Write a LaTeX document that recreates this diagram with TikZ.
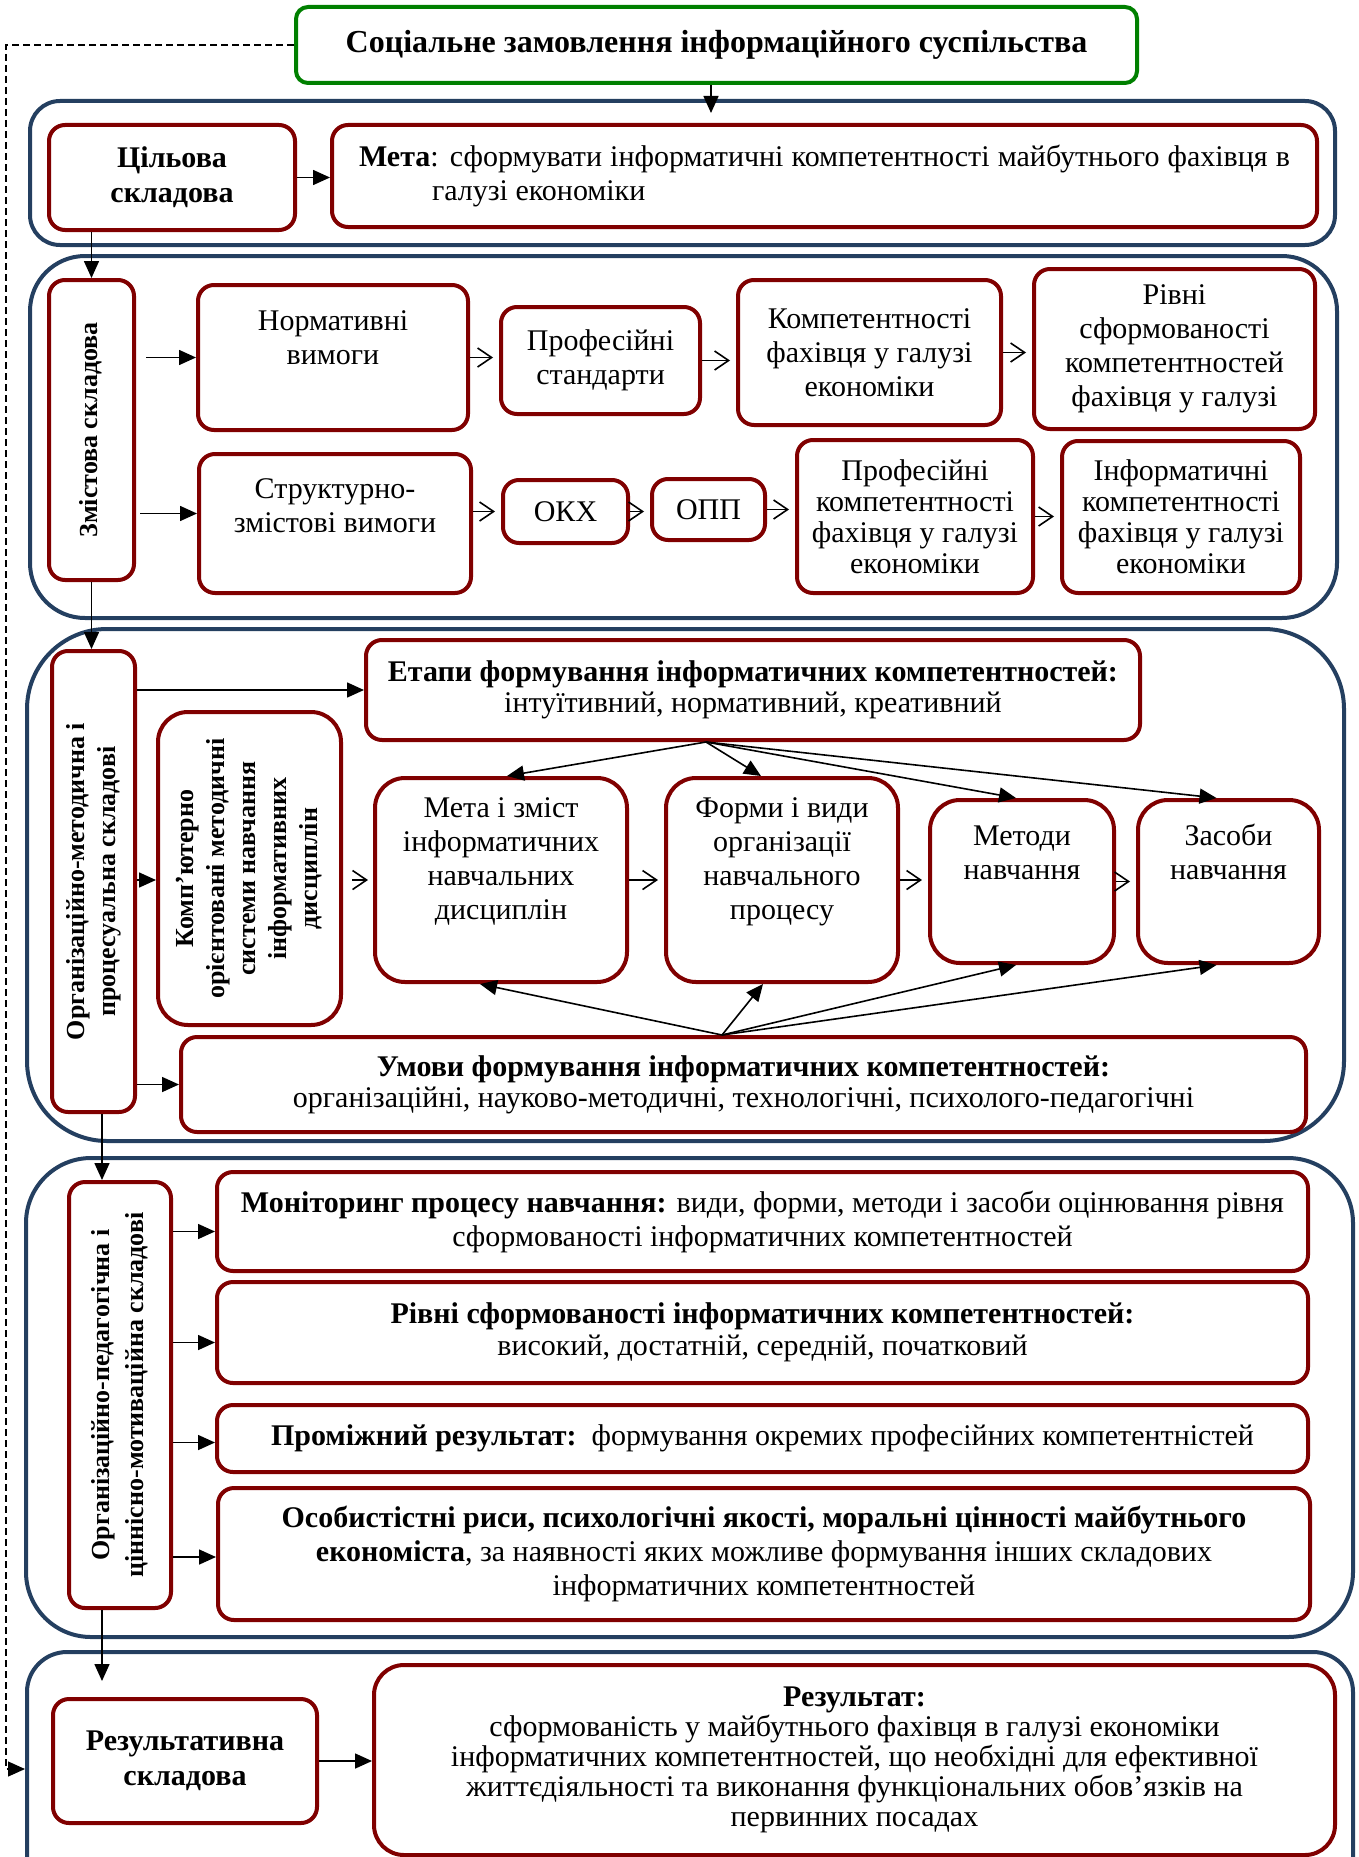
\documentclass[tikz,border=0pt]{standalone}
\usepackage{fontspec}
\usepackage{graphicx}
\setmainfont{Liberation Serif}
\usetikzlibrary{arrows.meta}
\definecolor{darkred}{RGB}{128,0,0}
\definecolor{navy}{RGB}{36,63,96}
\definecolor{grass}{RGB}{0,128,0}
\newcommand{\liftup}[2]{\raisebox{#1}[\height][\depth]{\begin{tabular}{@{}c@{}}#2\end{tabular}}}
\newcommand{\vertext}[1]{\rotatebox{90}{\begin{tabular}{@{}c@{}}#1\end{tabular}}}
\tikzset{
  zone/.style={draw=navy, line width=4pt, rounded corners=#1, inner sep=0pt},
  box/.style={draw=darkred, line width=4pt, rounded corners=16pt, fill=white, inner sep=0pt,
    align=center, font=\fontsize{30}{34}\selectfont},
  big/.style={rounded corners=30pt},
  vbox/.style={box, font=\fontsize{26}{31}\selectfont\bfseries},
  tight/.style={font=\fontsize{30}{31}\selectfont},
  arr/.style={->, line width=1.6pt},
  oarr/.style={-{Straight Barb[length=14pt,width=19pt]}, line width=1.6pt, shorten >=6pt},
}
\begin{document}
\begin{tikzpicture}[>={Triangle[length=17pt,width=15pt]}, x=1pt, y=-1pt]
\useasboundingbox (0,0) rectangle (1359,1857);
\clip (0,0) rectangle (1359,1857);
% рамки складових
\node[zone=30pt, minimum width=1305pt, minimum height=144pt] (b1) at (682.5,173) {};
\node[zone=55pt, minimum width=1307pt, minimum height=362pt] (b2) at (683.5,437) {};
\node[zone=80pt, minimum width=1317pt, minimum height=512pt] (b3) at (685.5,885) {};
\node[zone=65pt, minimum width=1327pt, minimum height=479pt] (b4) at (689.5,1397.5) {};
\node[zone=40pt, minimum width=1326pt, minimum height=248pt] (b5) at (690,1776) {};
\node[draw=grass, line width=4pt, rounded corners=12pt, fill=white, minimum width=841pt, minimum height=76pt,
  font=\fontsize{32}{36}\selectfont\bfseries] (soc) at (716.5,45) {Соціальне замовлення інформаційного суспільства};
% цільова складова
\node[box, font=\fontsize{30}{35}\selectfont\bfseries, minimum width=246pt, minimum height=105pt] (cil) at (172,177.5) {Цільова\\складова};
\node[box, minimum width=985pt, minimum height=102pt, text width=931pt, align=justify] (meta) at (824.5,176)
  {\textbf{Мета}: сформувати інформатичні компетентності майбутнього фахівця в\linebreak\hspace*{73pt}галузі економіки};
% змістова складова
\node[vbox, minimum width=85pt, minimum height=300pt] (zm) at (91.5,430) {\vertext{Змістова складова}};
\node[box, minimum width=270pt, minimum height=145pt] (nv) at (333,357.5) {\liftup{17pt}{Нормативні\\вимоги}};
\node[box, minimum width=199pt, minimum height=107pt] (ps) at (600.5,360.5) {Професійні\\стандарти};
\node[box, minimum width=263pt, minimum height=145pt] (kf) at (869.5,352.5) {Компетентності\\фахівця у галузі\\економіки};
\node[box, minimum width=281pt, minimum height=160pt] (rs) at (1174.5,349) {Рівні\\сформованості\\компетентностей\\фахівця у галузі};
\node[box, minimum width=272pt, minimum height=139pt] (sz) at (335,523.5) {\liftup{15pt}{Структурно-\\змістові вимоги}};
\node[box, minimum width=125pt, minimum height=63pt] (okh) at (565.5,511.5) {ОКХ};
\node[box, minimum width=113pt, minimum height=61pt] (opp) at (708.5,509.5) {ОПП};
\node[box, tight, minimum width=236pt, minimum height=153pt] (pk) at (915,516.5) {Професійні\\компетентності\\фахівця у галузі\\економіки};
\node[box, tight, minimum width=238pt, minimum height=152pt] (ik) at (1181,517) {Інформатичні\\компетентності\\фахівця у галузі\\економіки};
% організаційно-методична і процесуальна складові
\node[vbox, minimum width=83pt, minimum height=461pt] (om) at (93.5,881.5) {\vertext{Організаційно-методична і\\процесуальна складові}};
\node[box, tight, minimum width=774pt, minimum height=100pt] (et) at (753,690)
  {\textbf{Етапи формування інформатичних компетентностей:}\\інтуїтивний, нормативний, креативний};
\node[vbox, big, minimum width=183pt, minimum height=313pt] (km) at (249.5,868.5)
  {\vertext{Комп’ютерно\\орієнтовані методичні\\системи навчання\\інформативних\\дисциплін}};
\node[box, big, minimum width=252pt, minimum height=204pt] (mz) at (501,880) {\liftup{18pt}{Мета і зміст\\інформатичних\\навчальних\\дисциплін}};
\node[box, big, minimum width=232pt, minimum height=204pt] (fv) at (782,880) {\liftup{18pt}{Форми і види\\організації\\навчального\\процесу}};
\node[box, big, minimum width=184pt, minimum height=163pt] (mn) at (1022,881.5) {\liftup{26pt}{Методи\\навчання}};
\node[box, big, minimum width=181pt, minimum height=163pt] (zn) at (1228.5,881.5) {\liftup{26pt}{Засоби\\навчання}};
\node[box, tight, minimum width=1125pt, minimum height=95pt] (um) at (743.5,1084.5)
  {\textbf{Умови формування інформатичних компетентностей:}\\організаційні, науково-методичні, технологічні, психолого-педагогічні};
% організаційно-педагогічна і ціннісно-мотиваційна складові
\node[vbox, font=\fontsize{26}{34}\selectfont\bfseries, minimum width=102pt, minimum height=426pt] (op) at (120,1395)
  {\vertext{Організаційно-педагогічна і\\ціннісно-мотиваційна складові}};
\node[box, minimum width=1091pt, minimum height=99pt] (mon) at (762.5,1221.5)
  {\textbf{Моніторинг процесу навчання:} види, форми, методи і засоби оцінювання рівня\\сформованості інформатичних компетентностей};
\node[box, font=\fontsize{30}{32}\selectfont, minimum width=1091pt, minimum height=101pt] (rv) at (762.5,1332.5)
  {\textbf{Рівні сформованості інформатичних компетентностей:}\\високий, достатній, середній, початковий};
\node[box, minimum width=1091pt, minimum height=67pt] (pr) at (762.5,1438.5)
  {\textbf{Проміжний результат:}\ \ формування окремих професійних компетентністей};
\node[box, minimum width=1092pt, minimum height=132pt] (os) at (764,1554)
  {\textbf{Особистістні риси, психологічні якості, моральні цінності майбутнього}\\\textbf{економіста}, за наявності яких можливе формування інших складових\\інформатичних компетентностей};
% результативна складова
\node[box, font=\fontsize{30}{35}\selectfont\bfseries, minimum width=264pt, minimum height=124pt] (rz) at (185,1761) {Результативна\\складова};
\node[box, big, font=\fontsize{30}{30}\selectfont, minimum width=961pt, minimum height=190pt] (res) at (854.5,1760)
  {\textbf{Результат:}\\сформованість у майбутнього фахівця в галузі економіки\\інформатичних компетентностей, що необхідні для ефективної\\життєдіяльності та виконання функціональних обов’язків на\\первинних посадах};
% зв'язки
\coordinate (t1) at (711,113);
\coordinate (dl) at (6,1769);
\coordinate (sp) at (102,0);
\coordinate (t5) at (102,1681);
\coordinate (s2) at ([yshift=10pt]sz.west);
\coordinate (m1) at ([yshift=-10pt]mon.west);
\coordinate (m2) at ([yshift=-10pt]rv.west);
\coordinate (m3) at ([yshift=-4pt]pr.west);
\coordinate (m4) at ([yshift=-3pt]os.west);
\draw[arr] (soc.south -| t1) -- (t1);
\draw[->, line width=1.3pt, dash pattern=on 7pt off 4pt] (soc.west) -| (dl) -- (dl -| b5.west);
\draw[arr] (cil.east) -- (cil.east -| meta.west);
\draw[arr] (cil.south -| zm.north) -- (zm.north);
\draw[arr] (zm.south) -- (zm.south |- om.north);
\draw[arr] (om.south -| sp) -- (op.north -| sp);
\draw[arr] (op.south -| sp) -- (t5);
\draw[arr, shorten <=10pt] (zm.east |- nv.west) -- (nv.west);
\draw[arr, shorten <=4pt] (zm.east |- s2) -- (s2);
\draw[oarr] (nv.east) -- (nv.east -| ps.west);
\draw[oarr] (ps.east) -- (ps.east -| kf.west);
\draw[oarr] (kf.east) -- (kf.east -| rs.west);
\draw[oarr] (sz.east |- okh.west) -- (okh.west);
\draw[oarr] (okh.east) -- (okh.east -| opp.west);
\draw[oarr] (opp.east) -- (opp.east -| pk.west);
\draw[oarr] (pk.east) -- (pk.east -| ik.west);
\draw[arr] (om.east |- et.west) -- (et.west);
\draw[arr] (om.east |- mz.west) -- (km.west |- mz.west);
\draw[arr] (om.east |- um.west) -- (um.west);
\draw[oarr, shorten <=9pt, shorten >=5pt] (km.east |- mz.west) -- (mz.west);
\draw[oarr] (mz.east) -- (fv.west);
\draw[oarr] (fv.east) -- (fv.east -| mn.west);
\draw[oarr] (mn.east) -- (zn.west);
\coordinate (etp) at ([xshift=-47pt]et.south);
\coordinate (ump) at ([xshift=-21.5pt]um.north);
\draw[arr] (etp) -- ([xshift=6pt]mz.north);
\draw[arr] (etp) -- ([xshift=-21pt]fv.north);
\draw[arr] (etp) -- ([xshift=-6pt]mn.north);
\draw[arr] (etp) -- ([xshift=-12pt]zn.north);
\draw[arr] (ump) -- ([xshift=-21pt]mz.south);
\draw[arr] (ump) -- ([xshift=-19pt]fv.south);
\draw[arr] (ump) -- ([xshift=-6pt]mn.south);
\draw[arr] (ump) -- ([xshift=-12pt]zn.south);
\draw[arr] (op.east |- m1) -- (m1);
\draw[arr] (op.east |- m2) -- (m2);
\draw[arr] (op.east |- m3) -- (m3);
\draw[arr] (op.east |- m4) -- (m4);
\draw[arr] (rz.east) -- (rz.east -| res.west);
\end{tikzpicture}
\end{document}
